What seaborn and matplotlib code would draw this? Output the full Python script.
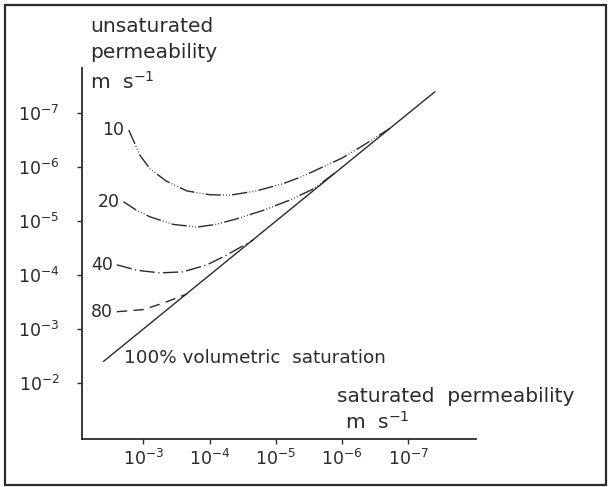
import numpy as np
import pandas as pd
import matplotlib
matplotlib.use("Agg")
import matplotlib.pyplot as plt
from matplotlib.patches import Rectangle
from matplotlib.ticker import NullLocator
import seaborn as sns

# ---- data (log10 exponents) ----
sat_line_x_exp = [-2.40, -7.40]          # 100 % volumetric saturation
sat_line_y_exp = [-2.40, -7.40]

c10_x_exp = [-2.78, -2.95, -3.10, -3.35, -3.66, -4.00, -4.30, -4.70, -5.10, -5.40, -5.70, -6.00, -6.30, -6.72]
c10_y_exp = [-6.69, -6.22, -5.97, -5.74, -5.56, -5.49, -5.48, -5.56, -5.69, -5.83, -6.00, -6.17, -6.39, -6.72]

c20_x_exp = [-2.70, -2.90, -3.10, -3.45, -3.81, -4.10, -4.40, -4.81, -5.21, -5.57, -5.92]
c20_y_exp = [-5.36, -5.20, -5.08, -4.94, -4.89, -4.94, -5.04, -5.20, -5.39, -5.60, -5.92]

c40_x_exp = [-2.60, -2.90, -3.25, -3.60, -3.96, -4.21, -4.66]
c40_y_exp = [-4.19, -4.09, -4.04, -4.06, -4.19, -4.34, -4.65]

c80_x_exp = [-2.60, -3.00, -3.30, -3.66]
c80_y_exp = [-3.32, -3.36, -3.48, -3.65]

curve_labels = ["10", "20", "40", "80"]
tick_exps = [-3, -4, -5, -6, -7]
ytick_exps = [-7, -6, -5, -4, -3, -2]

# ---- style ----
sns.set_style("white")
plt.rcParams["font.family"] = ["DejaVu Sans"]
plt.rcParams["mathtext.fontset"] = "dejavusans"
plt.rcParams["lines.scale_dashes"] = False
INK = "#2b2b2b"

W, H = 609, 487
fig = plt.figure(figsize=(W / 100, H / 100), dpi=100)
fig.patch.set_facecolor("white")


def fx(px):
    return px / W


def fy(py):
    return 1 - py / H


ax = fig.add_axes([fx(81.7), fy(439), (476 - 81.7) / W, (439 - 68) / H])

curves = [
    (c10_x_exp, c10_y_exp, (11, 1.6, 0.6, 1.6, 0.6, 1.6, 0.6, 1.6)),
    (c20_x_exp, c20_y_exp, (11, 1.6, 0.6, 1.6, 0.6, 1.6, 0.6, 1.6)),
    (c40_x_exp, c40_y_exp, (11, 2.5, 0.9, 2.5)),
    (c80_x_exp, c80_y_exp, (7.5, 4.5)),
]

# solid 100% saturation line
df_line = pd.DataFrame({"sat": 10.0 ** np.array(sat_line_x_exp),
                        "unsat": 10.0 ** np.array(sat_line_y_exp)})
sns.lineplot(data=df_line, x="sat", y="unsat", ax=ax, color=INK, lw=1.0, sort=False)

for (xe, ye, dash), lab in zip(curves, curve_labels):
    df = pd.DataFrame({"sat": 10.0 ** np.array(xe), "unsat": 10.0 ** np.array(ye)})
    n_before = len(ax.lines)
    sns.lineplot(data=df, x="sat", y="unsat", ax=ax, color=INK, lw=1.0, sort=False)
    ax.lines[n_before].set_dashes(dash)
    ax.annotate(lab, xy=(df["sat"].iloc[0], df["unsat"].iloc[0]), xytext=(-3, 0),
                textcoords="offset points", ha="right", va="center",
                fontsize=12.5, color=INK)

ax.set_xscale("log")
ax.set_yscale("log")
ax.set_xlim(10 ** -2.07, 10 ** -8.02)
ax.set_ylim(10 ** -0.96, 10 ** -7.84)
ax.set_xticks([10.0 ** e for e in tick_exps])
ax.set_yticks([10.0 ** e for e in ytick_exps])
ax.xaxis.set_minor_locator(NullLocator())
ax.yaxis.set_minor_locator(NullLocator())
ax.set_xlabel("")
ax.set_ylabel("")

for s in ["top", "right"]:
    ax.spines[s].set_visible(False)
for s in ["left", "bottom"]:
    ax.spines[s].set_color(INK)
    ax.spines[s].set_linewidth(1.3)
ax.tick_params(axis="both", which="major", direction="out", length=3.5, width=1.0,
               color=INK, labelcolor=INK, labelsize=12.5, left=True, bottom=True)
ax.tick_params(axis="y", pad=12.5)
ax.tick_params(axis="x", pad=3.5)

# text annotations
tkw = dict(color=INK, va="center", ha="left")
fig.text(fx(90), fy(27), "unsaturated", fontsize=14.5, **tkw)
fig.text(fx(90), fy(52), "permeability", fontsize=14.5, **tkw)
fig.text(fx(90), fy(82), r"m  s$^{-1}$", fontsize=14.5, **tkw)
fig.text(fx(337), fy(397), "saturated  permeability", fontsize=14.5, **tkw)
fig.text(fx(345), fy(422), r"m  s$^{-1}$", fontsize=14.5, **tkw)
fig.text(fx(124), fy(358), "100% volumetric  saturation", fontsize=13.2, **tkw)

# outer frame
fig.add_artist(Rectangle((fx(5), fy(485)), (606 - 5) / W, (485 - 5) / H,
                         transform=fig.transFigure, fill=False,
                         edgecolor=INK, linewidth=1.6))

fig.savefig("out.png", dpi=100)
